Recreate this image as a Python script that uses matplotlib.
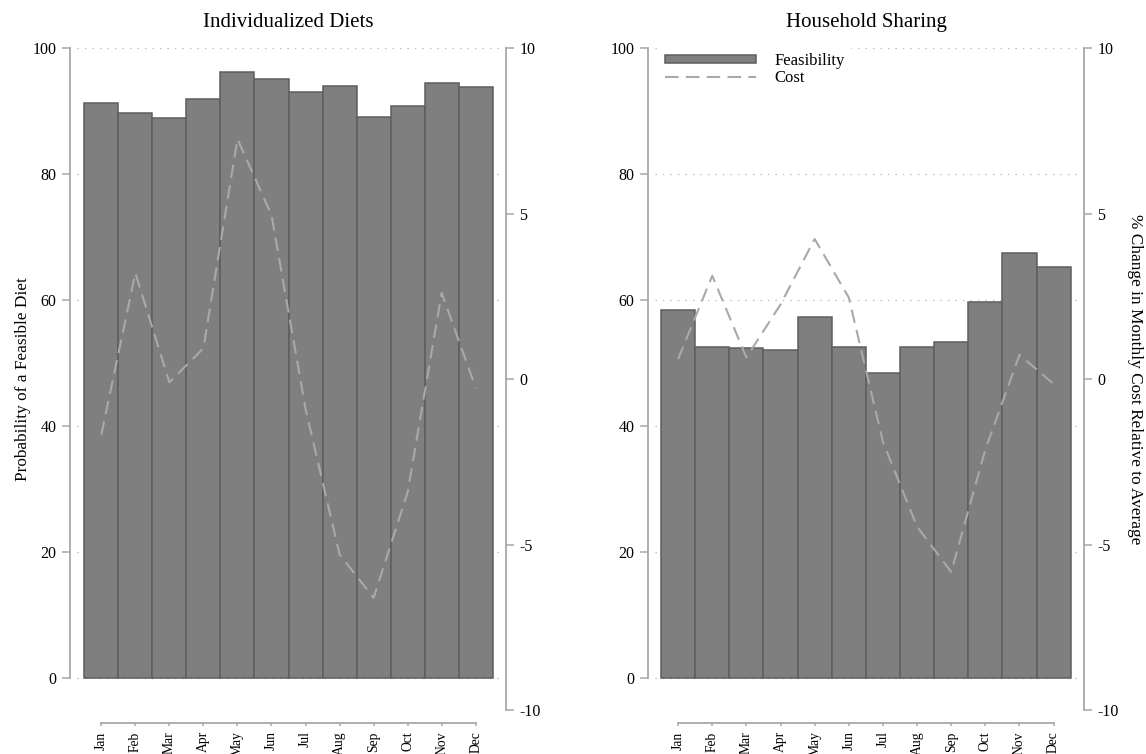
import numpy as np
import matplotlib
matplotlib.use("Agg")
import matplotlib.pyplot as plt

plt.rcParams['font.family'] = 'Liberation Serif'
plt.rcParams['axes.unicode_minus'] = False

# Monthly results
months = ['Jan', 'Feb', 'Mar', 'Apr', 'May', 'Jun',
          'Jul', 'Aug', 'Sep', 'Oct', 'Nov', 'Dec']

indiv_feasible = [91.2, 89.7, 88.9, 91.9, 96.2, 95.1, 93.0, 93.9, 89.1, 90.8, 94.5, 93.8]
indiv_cost = [-1.68, 3.2, -0.1, 0.93, 7.25, 4.95, -0.9, -5.3, -6.61, -3.42, 2.6, -0.27]

hh_feasible = [58.4, 52.5, 52.3, 52.0, 57.3, 52.5, 48.4, 52.6, 53.3, 59.7, 67.5, 65.3]
hh_cost = [0.6, 3.12, 0.65, 2.25, 4.23, 2.46, -1.9, -4.46, -5.83, -2.13, 0.73, -0.15]

left_ticks = [0, 20, 40, 60, 80, 100]
right_ticks = [-10, -5, 0, 5, 10]

bar_fill = '#7f7f7f'
bar_edge = '#5e5e5e'
cost_color = '#a9a9a9'
axis_color = '#a8a8a8'
grid_color = '#b4b4b4'

W, H = 1146, 754
fig = plt.figure(figsize=(W / 100, H / 100), dpi=100)


def px_axes(left_px, right_px, top_px=48, bottom_px=710):
    return fig.add_axes([left_px / W, 1 - bottom_px / H,
                         (right_px - left_px) / W, (bottom_px - top_px) / H])


def draw_panel(ax, feasible, cost, x_lo):
    x = np.arange(1, len(months) + 1)
    ax2 = ax.twinx()

    ax.set_xlim(x_lo, 12.89)
    ax.set_ylim(-5.1, 100)
    ax2.set_ylim(-10, 10)

    ax.hlines(left_ticks, x_lo + 0.19, 12.74, colors=grid_color,
              linestyles=(0, (1, 5)), lw=0.9, zorder=0)
    bars = ax.bar(x, feasible, width=1.0, color=bar_fill, edgecolor=bar_edge,
                  linewidth=1.1, zorder=2, label='Feasibility')
    line, = ax2.plot(x, cost, color=cost_color, lw=1.5, dashes=(6.5, 3.5),
                     label='Cost')

    # left axis
    for s in ['top', 'right']:
        ax.spines[s].set_visible(False)
    ax.spines['left'].set_bounds(0, 100)
    ax.spines['left'].set_color(axis_color)
    ax.spines['left'].set_linewidth(1.3)
    ax.set_yticks(left_ticks)
    ax.tick_params(axis='y', direction='out', length=5.8, width=1.1,
                   color=axis_color, pad=4, labelsize=11.5)

    # month axis sits a little below the plot
    ax.spines['bottom'].set_position(('outward', 9.6))
    ax.spines['bottom'].set_bounds(1, 12)
    ax.spines['bottom'].set_color(axis_color)
    ax.spines['bottom'].set_linewidth(1.3)
    ax.set_xticks(x)
    ax.set_xticklabels(months, rotation=90, fontsize=9.8)
    ax.tick_params(axis='x', direction='out', length=2.2, width=1.1,
                   color=axis_color, pad=3.5)

    # right axis for cost
    for s in ['top', 'bottom', 'left']:
        ax2.spines[s].set_visible(False)
    ax2.spines['right'].set_bounds(-10, 10)
    ax2.spines['right'].set_color(axis_color)
    ax2.spines['right'].set_linewidth(1.3)
    ax2.set_yticks(right_ticks)
    ax2.tick_params(axis='y', direction='out', length=5.8, width=1.1,
                    color=axis_color, pad=3.7, labelsize=11.5)
    return ax2, bars, line


ax_l = px_axes(70.3, 506)
draw_panel(ax_l, indiv_feasible, indiv_cost, 0.089)

ax_r = px_axes(648.3, 1084)
ax_r2, bars, line = draw_panel(ax_r, hh_feasible, hh_cost, 0.127)

leg = ax_r2.legend([bars, line], ['Feasibility', 'Cost'], loc='upper left',
                   bbox_to_anchor=(0.026, 1.0), borderaxespad=0,
                   borderpad=0.3, handlelength=5.5, handleheight=0.4,
                   handletextpad=1.1, labelspacing=0.05, fontsize=12,
                   frameon=True, fancybox=False)
leg.get_frame().set_facecolor('white')
leg.get_frame().set_edgecolor('white')
leg.get_frame().set_alpha(1)

fig.text(288 / W, 1 - 27 / H, 'Individualized Diets', ha='center', va='baseline', fontsize=15)
fig.text(866 / W, 1 - 27 / H, 'Household Sharing', ha='center', va='baseline', fontsize=15)
fig.text(23 / W, 1 - 379 / H, 'Probability of a Feasible Diet', rotation=90,
         ha='center', va='center', fontsize=12.4)
fig.text(1135 / W, 1 - 379 / H, '% Change in Monthly Cost Relative to Average',
         rotation=-90, ha='center', va='center', fontsize=12.4)

fig.savefig('out.png', dpi=100)
